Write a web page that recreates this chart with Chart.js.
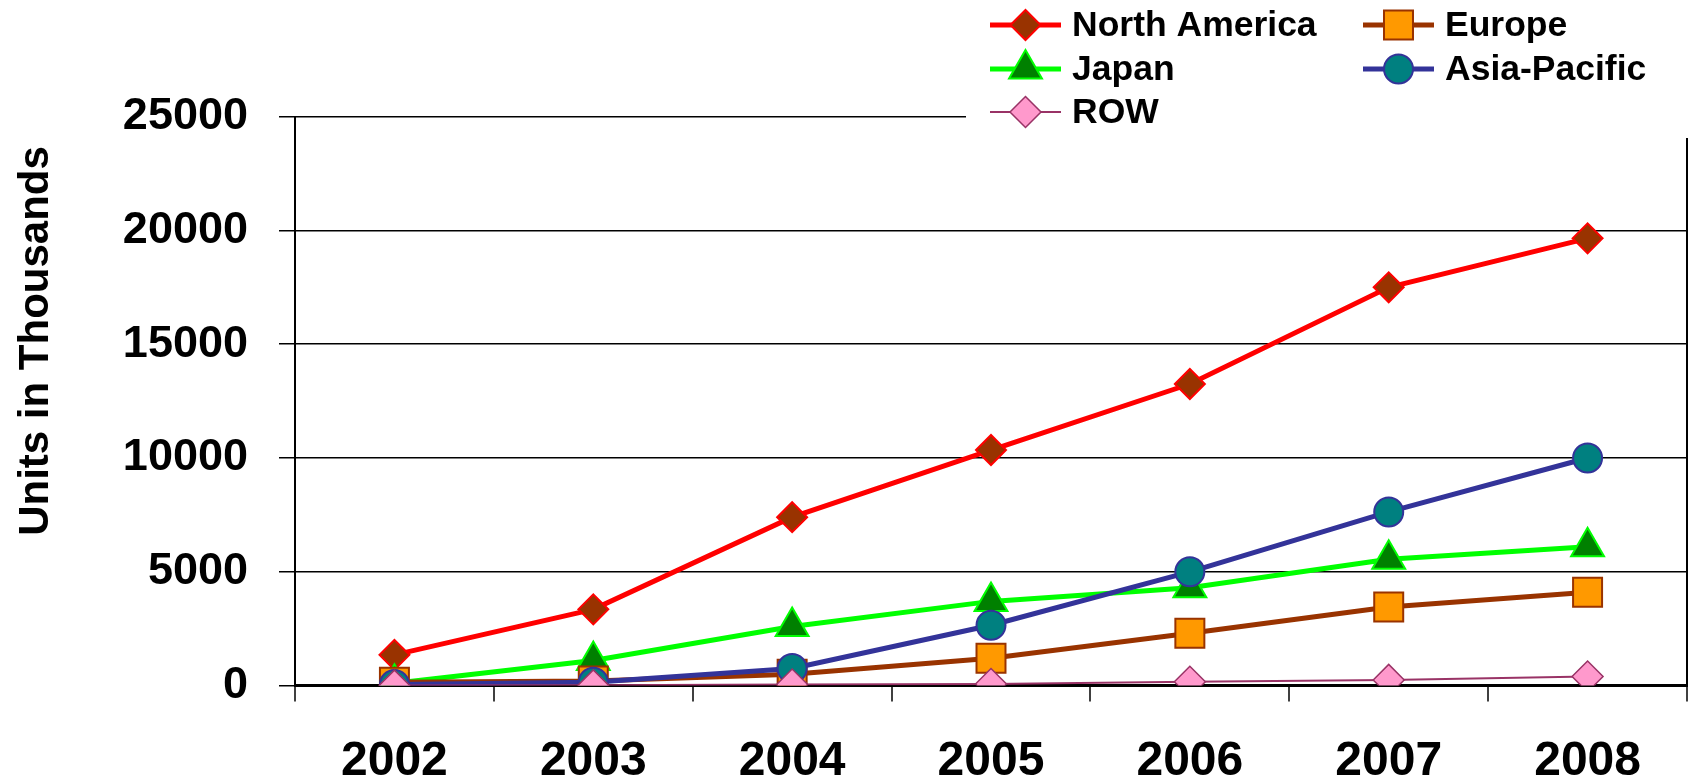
<!DOCTYPE html>
<html>
<head>
<meta charset="utf-8">
<script src="https://cdn.jsdelivr.net/npm/chart.js@4.4.1/dist/chart.umd.min.js"></script>
<style>
  html, body { margin: 0; padding: 0; background: #fff; }
  #c { display: block; }
</style>
</head>
<body>
<canvas id="c" width="1693" height="782"></canvas>
<script>
const years = ['2002', '2003', '2004', '2005', '2006', '2007', '2008'];
const northAmerica = [1350, 3350, 7400, 10350, 13250, 17500, 19650];
const europe = [150, 200, 500, 1200, 2300, 3450, 4100];
const japan = [100, 1100, 2600, 3700, 4300, 5550, 6100];
const asiaPacific = [50, 150, 750, 2650, 5000, 7630, 10000];
const row = [0, 10, 50, 70, 170, 250, 400];
const yTicks = [0, 5000, 10000, 15000, 20000, 25000];
const yTitle = 'Units in Thousands';

const FONT = '"Liberation Sans", Arial, Helvetica, sans-serif';

const datasets = [
  { label: 'North America', data: northAmerica, borderColor: '#FF0000', borderWidth: 5,
    pointStyle: 'rectRot', pointRadius: 15, pointBackgroundColor: '#993300', pointBorderColor: '#FF0000', pointBorderWidth: 2, order: 4 },
  { label: 'Europe', data: europe, borderColor: '#993300', borderWidth: 5,
    pointStyle: 'rect', pointRadius: 20.5, pointBackgroundColor: '#FF9900', pointBorderColor: '#993300', pointBorderWidth: 2, order: 2 },
  { label: 'Japan', data: japan, borderColor: '#00FF00', borderWidth: 5,
    pointStyle: 'triangle', pointRadius: 19, pointBackgroundColor: '#008000', pointBorderColor: '#00FF00', pointBorderWidth: 2, order: 3 },
  { label: 'Asia-Pacific', data: asiaPacific, borderColor: '#333399', borderWidth: 5,
    pointStyle: 'circle', pointRadius: 14.5, pointBackgroundColor: '#008080', pointBorderColor: '#333399', pointBorderWidth: 2, order: 1 },
  { label: 'ROW', data: row, borderColor: '#993366', borderWidth: 2,
    pointStyle: 'rectRot', pointRadius: 15.5, pointBackgroundColor: '#FF99CC', pointBorderColor: '#993366', pointBorderWidth: 1.5, order: 0 }
];
datasets.forEach(d => { d.tension = 0; d.fill = false; d.backgroundColor = d.pointBackgroundColor; });

// legend layout: [datasetIndex, column, row]
const legendSlots = [[0, 0, 0], [1, 1, 0], [2, 0, 1], [3, 1, 1], [4, 0, 2]];

const customLegend = {
  id: 'customLegend',
  afterDraw(chart) {
    const ctx = chart.ctx;
    ctx.save();
    ctx.fillStyle = '#ffffff';
    ctx.fillRect(966, 0, 1693 - 966, 138);
    const colX = [990, 1363];
    const rowY = [25, 69, 112];
    legendSlots.forEach(([di, c, r]) => {
      const ds = chart.data.datasets[di];
      const x0 = colX[c], y = rowY[r];
      ctx.strokeStyle = ds.borderColor;
      ctx.lineWidth = ds.borderWidth;
      ctx.beginPath();
      ctx.moveTo(x0, y);
      ctx.lineTo(x0 + 71, y);
      ctx.stroke();
      ctx.fillStyle = ds.pointBackgroundColor;
      ctx.strokeStyle = ds.pointBorderColor;
      ctx.lineWidth = ds.pointBorderWidth;
      Chart.helpers.drawPoint(ctx, { pointStyle: ds.pointStyle, radius: ds.pointRadius, borderWidth: ds.pointBorderWidth, rotation: 0 }, x0 + 35.5, y);
      ctx.fillStyle = '#000';
      ctx.font = 'bold 35.5px ' + FONT;
      ctx.textBaseline = 'middle';
      ctx.textAlign = 'left';
      ctx.fillText(ds.label, x0 + 82, y + 1);
    });
    // y axis title
    ctx.translate(36, 341);
    ctx.rotate(-Math.PI / 2);
    ctx.fillStyle = '#000';
    ctx.font = 'bold 42px ' + FONT;
    ctx.textAlign = 'center';
    ctx.textBaseline = 'middle';
    ctx.fillText(yTitle, 0, 0);
    ctx.restore();
  }
};

new Chart(document.getElementById('c'), {
  type: 'line',
  data: { labels: years, datasets: datasets },
  options: {
    responsive: false,
    animation: false,
    layout: { autoPadding: false, padding: { top: 116.6, right: 6, left: 0, bottom: 0 } },
    plugins: { legend: { display: false }, tooltip: { enabled: false } },
    scales: {
      x: {
        type: 'category',
        offset: true,
        grid: {
          offset: true,
          drawOnChartArea: true,
          color: c => (c.type === 'scale' ? '#000' : 'rgba(0,0,0,0)'),
          lineWidth: 2,
          tickLength: 16,
          tickColor: '#000',
          tickWidth: 1.5
        },
        border: { display: true, color: '#000', width: 3 },
        ticks: { font: { family: FONT, size: 48, weight: 'bold' }, color: '#000', padding: 31, maxRotation: 0, autoSkip: false },
        afterFit: s => { s.height = 96.4; s.paddingLeft = 0; s.paddingRight = 0; }
      },
      y: {
        min: 0,
        max: 25000,
        afterBuildTicks: s => { s.ticks = yTicks.map(v => ({ value: v })); },
        ticks: { font: { family: FONT, size: 45, weight: 'bold' }, color: '#000', padding: 31, callback: v => String(v) },
        grid: { color: '#000', lineWidth: 1.5, tickLength: 16, tickColor: '#000' },
        border: { display: true, color: '#000', width: 2 },
        afterFit: s => { s.width = 295; s.paddingTop = 0; s.paddingBottom = 0; }
      }
    }
  },
  plugins: [customLegend]
});
</script>
</body>
</html>
